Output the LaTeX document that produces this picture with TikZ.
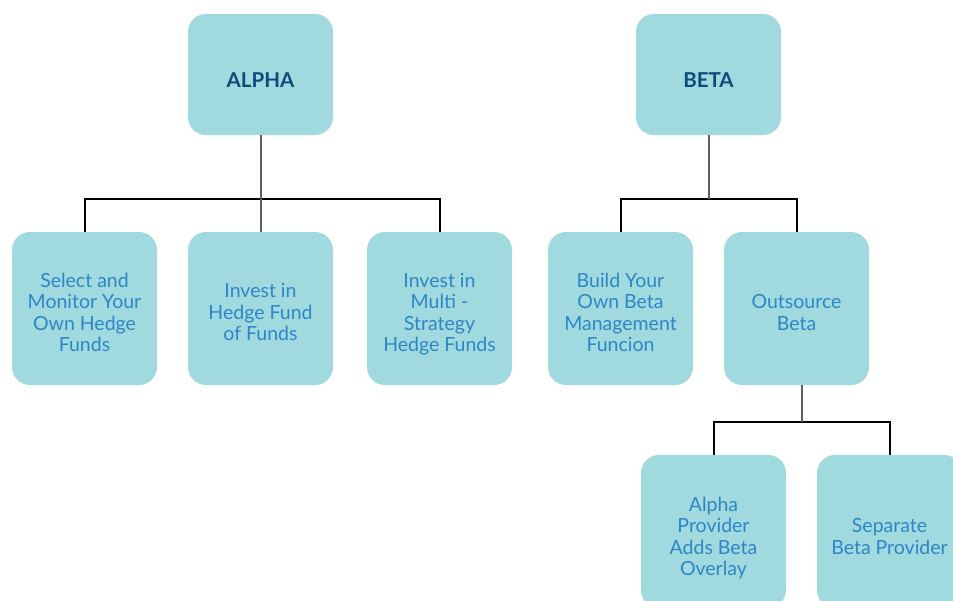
\documentclass[tikz,border=0pt]{standalone}
\usepackage{fontspec}
\setmainfont{Lato}
\usepackage{xcolor}
\definecolor{boxfill}{HTML}{A0D9DE}
\definecolor{boxtext}{HTML}{2E86C6}
\definecolor{headtext}{HTML}{0D4A7E}
\definecolor{stemgray}{HTML}{5F5F5F}

% text set a little below the middle of its box
\newcommand{\lowtext}[2]{\raisebox{-#1}[\height][\depth]{\begin{tabular}{@{}c@{}}#2\end{tabular}}}

\tikzset{
  choice/.style={fill=boxfill, rounded corners=18pt, minimum width=145pt, minimum height=153pt,
    align=center, text=boxtext, font=\fontsize{19.5}{21.5}\selectfont, inner sep=0pt},
  head/.style={choice, minimum height=121pt, text=headtext, font=\fontsize{20.5}{22}\selectfont\bfseries},
  bar/.style={draw=black, line width=2pt},
  stem/.style={draw=stemgray, line width=2pt}
}

\begin{document}
\begin{tikzpicture}[x=1pt,y=-1pt]
        \useasboundingbox (0,0) rectangle (953,600);
        \clip (0,0) rectangle (953,600);

        \node[head] (alpha) at (260.5, 74.5) {\lowtext{9pt}{ALPHA}};
        \node[head] (beta) at (708.5, 74.5) {\lowtext{9pt}{BETA}};

        \node[choice] (select) at (84.5, 308.5) {\lowtext{6.5pt}{Select and\\Monitor Your\\Own Hedge\\Funds}};
        \node[choice] (fof) at (260.5, 308.5) {\lowtext{6.5pt}{Invest in\\Hedge Fund\\of Funds}};
        \node[choice] (multi) at (439.5, 308.5) {\lowtext{6.5pt}{Invest in\\Multi -\\Strategy\\Hedge Funds}};
        \node[choice] (build) at (620.5, 308.5) {\lowtext{6.5pt}{Build Your\\Own Beta\\Management\\Funcion}};
        \node[choice] (outsource) at (796.5, 308.5) {\lowtext{6.5pt}{Outsource\\Beta}};

        \node[choice] (overlay) at (713.5, 531.5) {\lowtext{7.5pt}{Alpha\\Provider\\Adds Beta\\Overlay}};
        \node[choice] (separate) at (889.5, 531.5) {\lowtext{7.5pt}{Separate\\Beta Provider}};

        % branch points
        \coordinate (abar) at (260.5, 199);
        \coordinate (bbar) at (708.5, 199);
        \coordinate (obar) at (801.5, 422);

        \draw[bar] (select.north) |- (abar) -| (multi.north);
        \draw[bar] (build.north) |- (bbar) -| (outsource.north);
        \draw[bar] (overlay.north) |- (obar) -| (separate.north);

        \draw[stem] (alpha.south) -- (fof.north);
        \draw[stem] (beta.south) -- (bbar);
        \draw[stem] (obar) -- (obar |- outsource.south);
    \end{tikzpicture}
\end{document}
